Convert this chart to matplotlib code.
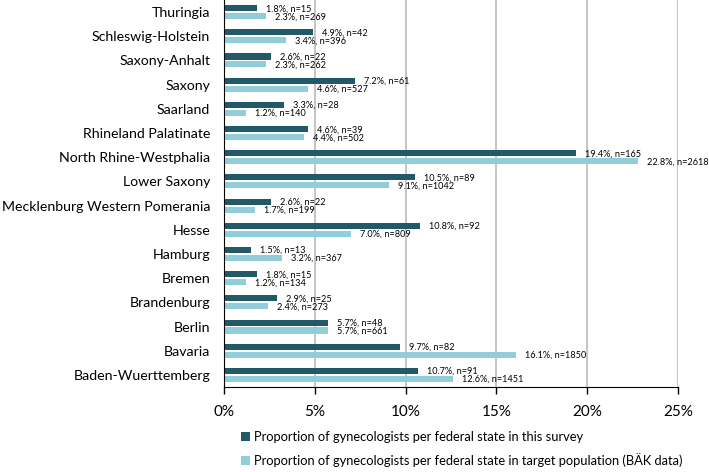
import matplotlib
matplotlib.use("Agg")
import matplotlib.pyplot as plt
import numpy as np

states = ["Thuringia", "Schleswig-Holstein", "Saxony-Anhalt", "Saxony", "Saarland",
          "Rhineland Palatinate", "North Rhine-Westphalia", "Lower Saxony",
          "Mecklenburg Western Pomerania", "Hesse", "Hamburg", "Bremen",
          "Brandenburg", "Berlin", "Bavaria", "Baden-Wuerttemberg"]
survey_pct = [1.8, 4.9, 2.6, 7.2, 3.3, 4.6, 19.4, 10.5, 2.6, 10.8, 1.5, 1.8, 2.9, 5.7, 9.7, 10.7]
survey_n = [15, 42, 22, 61, 28, 39, 165, 89, 22, 92, 13, 15, 25, 48, 82, 91]
target_pct = [2.3, 3.4, 2.3, 4.6, 1.2, 4.4, 22.8, 9.1, 1.7, 7.0, 3.2, 1.2, 2.4, 5.7, 16.1, 12.6]
target_n = [269, 396, 262, 527, 140, 502, 2618, 1042, 199, 809, 367, 134, 273, 661, 1850, 1451]
xticks = [0, 5, 10, 15, 20, 25]
legend_labels = ["Proportion of gynecologists per federal state in this survey",
                 "Proportion of gynecologists per federal state in target population (BÄK data)"]

dark = "#215968"
light = "#92CDDC"

plt.rcParams['font.family'] = ['Lato', 'DejaVu Sans']

fig = plt.figure(figsize=(7.09, 4.72), dpi=100)
ax = fig.add_axes([224/709, 1-387/472, (678-224)/709, 387/472])

y = np.arange(len(states))
off = 0.165
h = 0.25
ax.barh(y - off, survey_pct, height=h, color=dark, label=legend_labels[0], zorder=3)
ax.barh(y + off, target_pct, height=h, color=light, label=legend_labels[1], zorder=3)

for i in range(len(states)):
    ax.annotate(f"{survey_pct[i]:.1f}%, n={survey_n[i]}", (survey_pct[i], y[i] - off),
                xytext=(6.5, -0.5), textcoords="offset points", va="center", ha="left",
                fontsize=6.6, color="black", annotation_clip=False)
    ax.annotate(f"{target_pct[i]:.1f}%, n={target_n[i]}", (target_pct[i], y[i] + off),
                xytext=(6.5, -0.5), textcoords="offset points", va="center", ha="left",
                fontsize=6.6, color="black", annotation_clip=False)

ax.set_ylim(len(states) - 0.5, -0.5)
ax.set_xlim(0, 25)
ax.set_yticks(y)
ax.set_yticklabels(states, fontsize=10.2)
ax.tick_params(axis="y", length=0, pad=10)
ax.set_xticks(xticks)
ax.set_xticklabels([f"{t}%" for t in xticks], fontsize=11)
ax.tick_params(axis="x", direction="out", length=5, width=1, pad=8)
ax.grid(axis="x", color="#bfbfbf", linewidth=1.3, zorder=0)
for s in ["top", "right"]:
    ax.spines[s].set_visible(False)
ax.spines["left"].set_color("black")
ax.spines["bottom"].set_color("black")
ax.spines["left"].set_zorder(4)

handles, labels = ax.get_legend_handles_labels()
fig.legend(handles, labels, loc="upper left", bbox_to_anchor=(236/709, 1-426/472),
           frameon=False, fontsize=9.3, handlelength=0.7, handleheight=0.7,
           handletextpad=0.3, labelspacing=0.75, borderaxespad=0)

fig.savefig("out.png", dpi=100)
